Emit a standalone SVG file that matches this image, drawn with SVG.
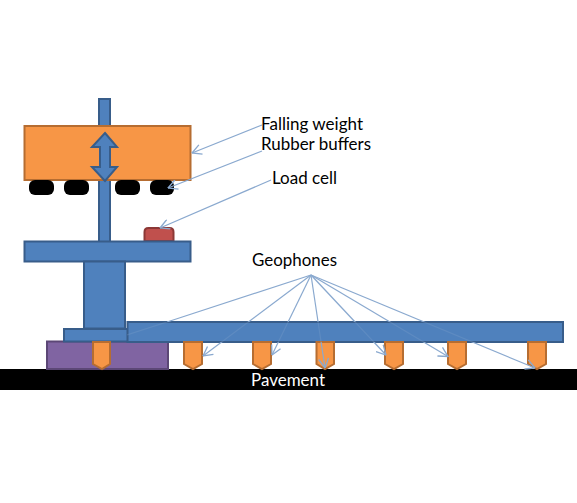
<svg xmlns="http://www.w3.org/2000/svg" width="577" height="503" viewBox="0 0 577 503">
<style>
.blue{fill:#4f81bd;stroke:#385d8a;stroke-width:2}
.orange{fill:#f79646;stroke:#b66d31;stroke-width:2}
.buf{fill:#000}
.lead{fill:none;stroke:#8aa9cf;stroke-width:1.200}
.lbl{font-family:Lato,"Liberation Sans",sans-serif;font-size:18px;fill:#000}
</style>
<defs>
<marker id="a" markerUnits="userSpaceOnUse" markerWidth="11" markerHeight="11" refX="9.500" refY="5" orient="auto" viewBox="0 0 10 10"><path d="M1 0.500L9.500 5L1 9.500" fill="none" stroke="#8aa9cf" stroke-width="1.200"/></marker>
<clipPath id="off-beam"><path d="M0 0H577V322H127V342H577V503H0Z"/></clipPath>
<clipPath id="on-beam"><rect x="127" y="322" width="436" height="20"/></clipPath>
</defs>
<rect width="577" height="503" fill="#fff"/>
<g id="pavement"><rect x="0" y="369" width="577" height="21" fill="#000"/><text x="288" y="386" text-anchor="middle" class="lbl" style="fill:#fff" textLength="74" lengthAdjust="spacingAndGlyphs">Pavement</text></g>
<g id="stem"><rect class="blue" x="99" y="99" width="11" height="143"/></g>
<g id="weight"><rect class="orange" x="24.500" y="126" width="166" height="54"/></g>
<g id="double-arrow"><path class="blue" d="M105 133L117 147H110V167H117L105 181L92 167H100V147H92Z"/></g>
<g id="buffers"><rect class="buf" x="29" y="180" width="25" height="15" rx="6"/><rect class="buf" x="64" y="180" width="25" height="15" rx="6"/><rect class="buf" x="115" y="180" width="25" height="15" rx="6"/><rect class="buf" x="150" y="180" width="24" height="15" rx="6"/></g>
<g id="load-cell"><path d="M144.500 241V232Q144.500 228 148.500 228H169.500Q173.500 228 173.500 232V241Z" fill="#c0504d" stroke="#8c3836" stroke-width="2"/></g>
<g id="plate"><rect class="blue" x="24.500" y="241.500" width="166" height="20"/></g>
<g id="column"><rect class="blue" x="84" y="261.500" width="41" height="67"/></g>
<g id="purple-base"><rect x="47" y="341.500" width="121" height="27.500" fill="#8064a2" stroke="#5c4776" stroke-width="2"/></g>
<g id="small-base"><rect class="blue" x="64" y="329" width="64" height="12.500"/></g>
<g id="beam"><rect class="blue" x="127.500" y="322" width="435.500" height="20"/></g>
<g id="geophones">
<path class="orange" d="M93 342H110V364L102 369L93 364Z"/>
<path class="orange" d="M184 342H202V364L193 369L184 364Z"/>
<path class="orange" d="M253 342H271V364L262 369L253 364Z"/>
<path class="orange" d="M316.500 342H334V364L325 369L316.500 364Z"/>
<path class="orange" d="M385 342H403V364L394 369L385 364Z"/>
<path class="orange" d="M448 342H466V364L457 369L448 364Z"/>
<path class="orange" d="M528 342H546V364L537 369L528 364Z"/>
</g>
<g id="connectors">
<path class="lead" marker-end="url(#a)" d="M262 125L192 153"/>
<path class="lead" marker-end="url(#a)" d="M262 151L168 188"/>
<path class="lead" marker-end="url(#a)" d="M271 180L160 228"/>
<g clip-path="url(#off-beam)">
<path class="lead" d="M311 275L167 322"/>
<path class="lead" marker-end="url(#a)" d="M311 275L203 356"/>
<path class="lead" marker-end="url(#a)" d="M311 275L272 355"/>
<path class="lead" marker-end="url(#a)" d="M311 275L325 368"/>
<path class="lead" marker-end="url(#a)" d="M311 275L386 355"/>
<path class="lead" marker-end="url(#a)" d="M311 275L448 356.500"/>
<path class="lead" marker-end="url(#a)" d="M311 275L535 368"/>
</g>
<g clip-path="url(#on-beam)" opacity="0.25">
<path class="lead" d="M311 275L127 335"/>
<path class="lead" d="M311 275L203 356"/>
<path class="lead" d="M311 275L272 355"/>
<path class="lead" d="M311 275L325 368"/>
<path class="lead" d="M311 275L386 355"/>
<path class="lead" d="M311 275L448 356.500"/>
<path class="lead" d="M311 275L535 368"/>
</g>
</g>
<text class="lbl" x="261" y="130" textLength="102" lengthAdjust="spacingAndGlyphs">Falling weight</text>
<text class="lbl" x="261" y="150" textLength="110" lengthAdjust="spacingAndGlyphs">Rubber buffers</text>
<text class="lbl" x="272" y="184" textLength="65" lengthAdjust="spacingAndGlyphs">Load cell</text>
<text class="lbl" x="252" y="266" textLength="85" lengthAdjust="spacingAndGlyphs">Geophones</text>
</svg>
